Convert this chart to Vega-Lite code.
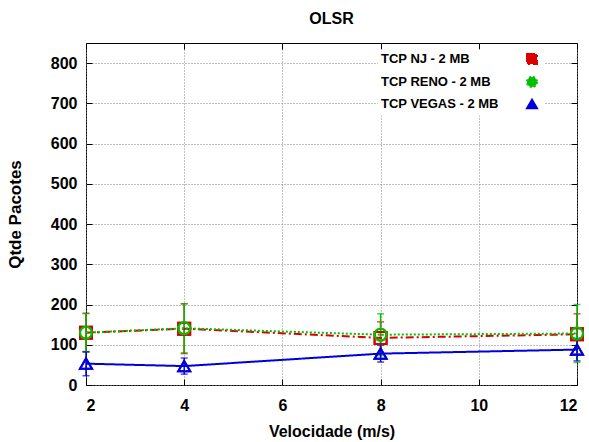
{
  "$schema": "https://vega.github.io/schema/vega-lite/v6.json",
  "width": 491,
  "height": 342,
  "autosize": {"type": "none"},
  "padding": {"left": 86, "top": 43, "right": 12, "bottom": 57},
  "background": "white",
  "title": {"text": "OLSR", "font": "Liberation Sans", "fontSize": 16, "fontWeight": "bold", "color": "black", "anchor": "middle", "frame": "group", "offset": 16},
  "config": {
    "view": {"stroke": "black", "strokeWidth": 1},
    "axis": {
      "domain": false,
      "tickColor": "black",
      "tickSize": -6,
      "tickWidth": 1,
      "gridColor": "#808080",
      "gridDash": [1, 2],
      "gridWidth": 1,
      "gridOpacity": 1,
      "labelFont": "Liberation Sans",
      "labelFontSize": 16,
      "labelFontWeight": "bold",
      "labelColor": "black",
      "titleFont": "Liberation Sans",
      "titleFontSize": 16,
      "titleFontWeight": "bold",
      "titleColor": "black"
    }
  },
  "data": {
    "values": [
      {"series": "TCP NJ - 2 MB", "vel": 2, "pac": 130, "lo": 82, "hi": 178},
      {"series": "TCP NJ - 2 MB", "vel": 4, "pac": 140, "lo": 78, "hi": 202},
      {"series": "TCP NJ - 2 MB", "vel": 8, "pac": 117, "lo": 77, "hi": 157},
      {"series": "TCP NJ - 2 MB", "vel": 12, "pac": 126, "lo": 77, "hi": 177},
      {"series": "TCP RENO - 2 MB", "vel": 2, "pac": 130, "lo": 82, "hi": 178},
      {"series": "TCP RENO - 2 MB", "vel": 4, "pac": 141, "lo": 80, "hi": 202},
      {"series": "TCP RENO - 2 MB", "vel": 8, "pac": 125, "lo": 73, "hi": 177},
      {"series": "TCP RENO - 2 MB", "vel": 12, "pac": 128, "lo": 56, "hi": 200},
      {"series": "TCP VEGAS - 2 MB", "vel": 2, "pac": 53, "lo": 23, "hi": 83},
      {"series": "TCP VEGAS - 2 MB", "vel": 4, "pac": 47, "lo": 27, "hi": 67},
      {"series": "TCP VEGAS - 2 MB", "vel": 8, "pac": 78, "lo": 57, "hi": 99},
      {"series": "TCP VEGAS - 2 MB", "vel": 12, "pac": 88, "lo": 60, "hi": 116}
    ]
  },
  "resolve": {"axis": {"x": "independent", "y": "independent"}},
  "layer": [
    {
      "mark": {"type": "point", "filled": false, "strokeWidth": 2, "size": 144, "opacity": 1},
      "encoding": {
        "x": {"field": "vel", "type": "quantitative", "scale": {"domain": [2, 12], "nice": false}, "axis": {"orient": "bottom", "title": "Velocidade (m/s)", "grid": true, "values": [2, 4, 6, 8, 10, 12], "labelPadding": 18, "titlePadding": 10}},
        "y": {"field": "pac", "type": "quantitative", "scale": {"domain": [0, 850], "nice": false}, "axis": {"orient": "left", "title": "Qtde Pacotes", "grid": true, "values": [0, 100, 200, 300, 400, 500, 600, 700, 800], "labelPadding": 15, "titlePadding": 26, "titleFontSize": 17}},
        "color": {
          "field": "series", "type": "nominal",
          "scale": {"domain": ["TCP NJ - 2 MB", "TCP RENO - 2 MB", "TCP VEGAS - 2 MB"], "range": ["#dd0000", "#00c000", "#0000dd"]},
          "legend": {
            "title": null,
            "orient": "none",
            "legendX": 292,
            "legendY": 6.5,
            "padding": 3,
            "fillColor": "white",
            "labelFont": "Liberation Sans",
            "labelFontSize": 13,
            "labelFontWeight": "bold",
            "labelColor": "black",
            "symbolSize": 100,
            "symbolStrokeWidth": 2,
            "rowPadding": 4,
            "symbolOffset": 144.5,
            "labelOffset": -157.5,
            "encode": {
              "symbols": {
                "shape": {"value": {"expr": "datum.value === 'TCP NJ - 2 MB' ? 'M-4.5,0L-3.25,0M-2.7,0L-2.45,0M-2,0L-1.2,0M1.2,0L2,0M2.45,0L2.7,0M3.25,0L4.5,0M-1.2,-1.2L1.2,-1.2L1.2,1.2L-1.2,1.2Z' : datum.value === 'TCP RENO - 2 MB' ? 'M-4.5,0L-4.1,0M-3.8,0L-3.4,0M-3.1,0L-2.7,0M-2.4,0L-2,0M-1.7,0L-1.3,0M1.3,0L1.7,0M2,0L2.4,0M2.7,0L3.1,0M3.4,0L3.8,0M4.1,0L4.5,0M1.2,0A1.2,1.2,0,1,1,-1.2,0A1.2,1.2,0,1,1,1.2,0Z' : 'M-4.5,0L-1.3,0M1.3,0L4.5,0M0,-1.4L1.3,0.75L-1.3,0.75Z'"}},
                "fill": {"value": "transparent"},
                "size": {"value": 100},
                "strokeWidth": {"value": 2},
                "opacity": {"value": 1}
              }
            }
          }
        },
        "shape": {"field": "series", "type": "nominal",
          "scale": {"domain": ["TCP NJ - 2 MB", "TCP RENO - 2 MB", "TCP VEGAS - 2 MB"], "range": ["square", "circle", "triangle-up"]}}
      }
    },
    {
      "mark": {"type": "errorbar", "ticks": {"size": 7, "thickness": 1.5}, "thickness": 1.5},
      "encoding": {
        "x": {"field": "vel", "type": "quantitative", "axis": null},
        "y": {"field": "lo", "type": "quantitative", "axis": null},
        "y2": {"field": "hi"},
        "color": {"field": "series", "type": "nominal"}
      }
    },
    {
      "mark": {"type": "line", "strokeWidth": 2},
      "encoding": {
        "x": {"field": "vel", "type": "quantitative", "axis": {"orient": "top", "labels": false, "title": null, "grid": false, "values": [2, 4, 6, 8, 10, 12]}},
        "y": {"field": "pac", "type": "quantitative", "axis": {"orient": "right", "labels": false, "title": null, "grid": false, "values": [0, 100, 200, 300, 400, 500, 600, 700, 800]}},
        "color": {"field": "series", "type": "nominal"},
        "strokeDash": {"field": "series", "type": "nominal", "legend": null,
          "scale": {"domain": ["TCP NJ - 2 MB", "TCP RENO - 2 MB", "TCP VEGAS - 2 MB"], "range": [[8, 3, 2, 3], [2, 2], [1, 0]]}}
      }
    },
    {
      "mark": {"type": "point", "filled": false, "strokeWidth": 2, "size": 144, "opacity": 1},
      "encoding": {
        "x": {"field": "vel", "type": "quantitative", "axis": null},
        "y": {"field": "pac", "type": "quantitative", "axis": null},
        "color": {"field": "series", "type": "nominal"},
        "shape": {"field": "series", "type": "nominal"}
      }
    }
  ]
}
